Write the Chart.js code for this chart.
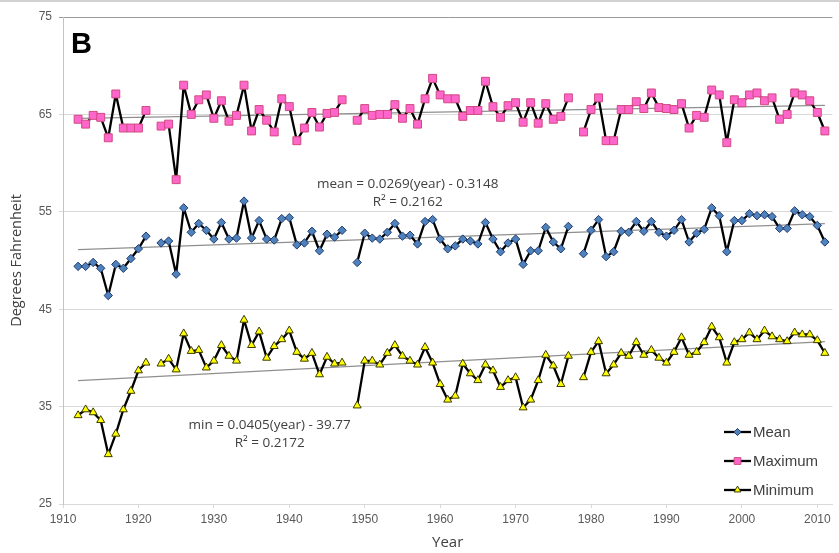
<!DOCTYPE html>
<html>
<head>
<meta charset="utf-8">
<script src="https://cdn.jsdelivr.net/npm/chart.js@4.4.1/dist/chart.umd.min.js"></script>
<style>
html, body { margin: 0; padding: 0; background: #fff; }
canvas { display: block; }
</style>
</head>
<body>
<canvas id="c" width="839" height="553"></canvas>
<script>
// Annual temperatures, degrees Fahrenheit (null = missing year)
const years = [
  1912, 1913, 1914, 1915, 1916, 1917, 1918, 1919, 1920, 1921,
  1922, 1923, 1924, 1925, 1926, 1927, 1928, 1929, 1930, 1931,
  1932, 1933, 1934, 1935, 1936, 1937, 1938, 1939, 1940, 1941,
  1942, 1943, 1944, 1945, 1946, 1947, 1948, 1949, 1950, 1951,
  1952, 1953, 1954, 1955, 1956, 1957, 1958, 1959, 1960, 1961,
  1962, 1963, 1964, 1965, 1966, 1967, 1968, 1969, 1970, 1971,
  1972, 1973, 1974, 1975, 1976, 1977, 1978, 1979, 1980, 1981,
  1982, 1983, 1984, 1985, 1986, 1987, 1988, 1989, 1990, 1991,
  1992, 1993, 1994, 1995, 1996, 1997, 1998, 1999, 2000, 2001,
  2002, 2003, 2004, 2005, 2006, 2007, 2008, 2009, 2010, 2011
];

const meanTemps = [
  49.4, 49.4, 49.8, 49.2, 46.4, 49.6, 49.2, 50.2, 51.2, 52.5,
  null, 51.8, 52.0, 48.6, 55.4, 52.9, 53.8, 53.1, 52.2, 53.9,
  52.2, 52.3, 56.1, 52.3, 54.1, 52.2, 52.1, 54.3, 54.4, 51.6,
  51.8, 53.0, 51.0, 52.7, 52.4, 53.1, null, 49.8, 52.8, 52.3,
  52.2, 52.9, 53.8, 52.5, 52.6, 51.7, 54.0, 54.2, 52.2, 51.2,
  51.5, 52.2, 52.0, 51.7, 53.9, 52.2, 50.9, 51.8, 52.2, 49.6,
  51.0, 51.0, 53.4, 51.9, 51.2, 53.5, null, 50.7, 53.1, 54.2,
  50.4, 50.9, 53.0, 52.9, 54.0, 53.0, 54.0, 52.9, 52.5, 53.1,
  54.2, 51.9, 52.8, 53.2, 55.4, 54.6, 50.9, 54.1, 54.1, 54.8,
  54.6, 54.7, 54.5, 53.3, 53.3, 55.1, 54.7, 54.5, 53.6, 51.9
];

const maxTemps = [
  64.5, 64.0, 64.9, 64.7, 62.6, 67.1, 63.6, 63.6, 63.6, 65.4,
  null, 63.8, 64.0, 58.3, 68.0, 65.0, 66.5, 67.0, 64.6, 66.4,
  64.3, 64.9, 68.0, 63.3, 65.5, 64.4, 63.2, 66.6, 65.8, 62.3,
  63.6, 65.2, 63.7, 65.1, 65.2, 66.5, null, 64.4, 65.6, 64.9,
  65.0, 65.0, 66.0, 64.6, 65.6, 64.0, 66.6, 68.7, 67.0, 66.6,
  66.6, 64.8, 65.4, 65.4, 68.4, 65.8, 64.7, 65.9, 66.2, 64.2,
  66.2, 64.1, 66.1, 64.5, 64.8, 66.7, null, 63.2, 65.5, 66.7,
  62.3, 62.3, 65.5, 65.5, 66.3, 65.6, 67.2, 65.7, 65.6, 65.5,
  66.1, 63.6, 64.9, 64.7, 67.5, 67.0, 62.1, 66.5, 66.2, 67.0,
  67.2, 66.4, 66.7, 64.5, 65.0, 67.2, 67.0, 66.4, 65.2, 63.3
];

const minTemps = [
  34.1, 34.7, 34.4, 33.6, 30.1, 32.2, 34.7, 36.6, 38.7, 39.5,
  null, 39.4, 39.9, 38.8, 42.5, 40.7, 40.8, 39.0, 39.7, 41.3,
  40.2, 39.7, 43.9, 41.3, 42.7, 40.0, 41.2, 41.9, 42.8, 40.6,
  39.9, 40.5, 38.3, 40.1, 39.4, 39.5, null, 35.1, 39.7, 39.7,
  39.3, 40.5, 41.3, 40.2, 39.7, 39.3, 41.1, 39.5, 37.3, 35.7,
  36.1, 39.4, 38.4, 37.7, 39.3, 38.7, 37.0, 37.7, 38.0, 34.9,
  35.7, 37.7, 40.3, 39.2, 37.3, 40.2, null, 38.0, 40.6, 41.7,
  38.4, 39.3, 40.5, 40.2, 41.6, 40.3, 40.8, 40.0, 39.5, 40.6,
  42.1, 40.3, 40.6, 41.6, 43.2, 42.1, 39.5, 41.6, 41.9, 42.6,
  41.9, 42.8, 42.2, 41.9, 41.7, 42.6, 42.4, 42.4, 41.8, 40.5
];

// Axis ticks
const xTicks = [1910, 1920, 1930, 1940, 1950, 1960, 1970, 1980, 1990, 2000, 2010];
const yTicks = [25, 35, 45, 55, 65, 75];

// Published linear fits
const meanFit = { slope: 0.0269, intercept: -0.3148, r2: 0.2162 };
const minFit  = { slope: 0.0405, intercept: -39.77, r2: 0.2172 };

const seriesNames = ['Mean', 'Maximum', 'Minimum'];
const panelLetter = 'B';
const xTitle = 'Year';
const yTitle = 'Degrees Fahrenheit';

// Least-squares fit for the maximum series (no equation printed for it)
function leastSquares(xs, ys) {
  let n = 0, sx = 0, sy = 0, sxx = 0, sxy = 0;
  xs.forEach((xv, i) => {
    const yv = ys[i];
    if (yv == null) return;
    n++; sx += xv; sy += yv; sxx += xv * xv; sxy += xv * yv;
  });
  const slope = (n * sxy - sx * sy) / (n * sxx - sx * sx);
  return { slope, intercept: (sy - slope * sx) / n };
}
const maxFit = leastSquares(years, maxTemps);

const toPoints = vals => years.map((yr, i) => ({ x: yr, y: vals[i] }));
const firstYear = years[0], lastYear = years[years.length - 1];
const fitLine = f => [
  { x: firstYear, y: f.slope * firstYear + f.intercept },
  { x: lastYear,  y: f.slope * lastYear  + f.intercept }
];

const styles = [
  { pointStyle: 'rectRot',  radius: 4.2, fill: '#4f81bd', stroke: '#1f3c6e' },
  { pointStyle: 'rect',     radius: 5.6, fill: '#ff66cc', stroke: '#d04a80' },
  { pointStyle: 'triangle', radius: 4.6, fill: '#ffff00', stroke: '#3a3a00' }
];
const seriesValues = [meanTemps, maxTemps, minTemps];

const seriesSets = seriesValues.map((vals, i) => ({
  label: seriesNames[i],
  data: toPoints(vals),
  borderColor: '#000',
  borderWidth: 2.3,
  borderJoinStyle: 'round',
  tension: 0,
  spanGaps: false,
  pointStyle: styles[i].pointStyle,
  pointRadius: styles[i].radius,
  pointBackgroundColor: styles[i].fill,
  pointBorderColor: styles[i].stroke,
  pointBorderWidth: 1,
  order: i
}));

const trendSets = [meanFit, maxFit, minFit].map(f => ({
  label: 'trend',
  data: fitLine(f),
  borderColor: '#8f8f8f',
  borderWidth: 1.1,
  pointRadius: 0,
  tension: 0,
  order: 10
}));

function drawMarker(ctx, st, x, y) {
  const r = st.radius;
  ctx.beginPath();
  if (st.pointStyle === 'rect') {
    const s = r * Math.SQRT1_2;
    ctx.rect(x - s, y - s, 2 * s, 2 * s);
  } else if (st.pointStyle === 'rectRot') {
    ctx.moveTo(x, y - r); ctx.lineTo(x + r, y); ctx.lineTo(x, y + r); ctx.lineTo(x - r, y);
    ctx.closePath();
  } else {
    const h = r * Math.sqrt(3) / 2;
    ctx.moveTo(x, y - r); ctx.lineTo(x + h, y + r / 2); ctx.lineTo(x - h, y + r / 2);
    ctx.closePath();
  }
  ctx.fillStyle = st.fill; ctx.fill();
  ctx.lineWidth = 1; ctx.strokeStyle = st.stroke; ctx.stroke();
}

const fmt = (v, d) => v.toFixed(d);
const annotations = [
  { x: 1955.7, y: 57.85, text: 'mean = ' + fmt(meanFit.slope, 4) + '(year) - ' + fmt(-meanFit.intercept, 4) },
  { x: 1955.7, y: 56.0,  text: 'R\u00B2 = ' + fmt(meanFit.r2, 4) },
  { x: 1937.4, y: 33.1,  text: 'min = ' + fmt(minFit.slope, 4) + '(year) - ' + fmt(-minFit.intercept, 2) },
  { x: 1937.4, y: 31.2,  text: 'R\u00B2 = ' + fmt(minFit.r2, 4) }
];

const decorations = {
  id: 'decorations',
  beforeDraw(chart) {
    const ctx = chart.ctx;
    ctx.save();
    ctx.fillStyle = '#fff';
    ctx.fillRect(0, 0, chart.width, chart.height);
    ctx.fillStyle = '#d2d2d2';
    ctx.fillRect(0, 0, chart.width, 2);
    ctx.restore();
  },
  afterDraw(chart) {
    const { ctx, chartArea } = chart;
    const xs = chart.scales.x, ys = chart.scales.y;
    ctx.save();

    // panel letter
    ctx.font = 'bold 29px "Liberation Sans", Arial, sans-serif';
    ctx.fillStyle = '#000';
    ctx.textAlign = 'left';
    ctx.textBaseline = 'alphabetic';
    ctx.fillText(panelLetter, chartArea.left + 8, chartArea.top + 36);

    // fit equations
    ctx.font = '13.5px "Open Sans", sans-serif';
    ctx.fillStyle = '#404040';
    ctx.textAlign = 'center';
    ctx.textBaseline = 'middle';
    annotations.forEach(a => {
      ctx.fillText(a.text, xs.getPixelForValue(a.x), ys.getPixelForValue(a.y));
    });

    // legend
    const lx = chartArea.left + 661, rowY = chartArea.bottom - 72, rowGap = 29;
    ctx.font = '15px "Liberation Sans", Arial, sans-serif';
    ctx.textAlign = 'left';
    seriesNames.forEach((name, i) => {
      const yy = rowY + i * rowGap;
      ctx.beginPath();
      ctx.moveTo(lx, yy); ctx.lineTo(lx + 27, yy);
      ctx.strokeStyle = '#000'; ctx.lineWidth = 2.3; ctx.stroke();
      drawMarker(ctx, { ...styles[i], radius: styles[i].radius * 0.85 }, lx + 13.5, yy);
      ctx.fillStyle = '#404040';
      ctx.fillText(name, lx + 29, yy + 1);
    });
    ctx.restore();
  }
};

new Chart(document.getElementById('c'), {
  type: 'line',
  data: { datasets: [...seriesSets, ...trendSets] },
  plugins: [decorations],
  options: {
    responsive: false,
    animation: false,
    events: [],
    layout: { padding: { top: 17, right: 0, bottom: 0, left: 0 } },
    plugins: { legend: { display: false }, tooltip: { enabled: false } },
    scales: {
      x: {
        type: 'linear',
        min: 1910,
        max: 2012,
        afterBuildTicks: s => { s.ticks = xTicks.map(v => ({ value: v })); },
        afterFit: s => { s.height = 49; },
        ticks: {
          color: '#595959',
          font: { family: '"Liberation Sans", Arial, sans-serif', size: 12 },
          padding: 4,
          maxRotation: 0,
          autoSkip: false,
          callback: v => String(v)
        },
        grid: { drawOnChartArea: false, drawTicks: true, tickLength: 4, color: '#d9d9d9' },
        border: { color: '#d9d9d9', width: 1 },
        title: {
          display: true,
          text: xTitle,
          color: '#404040',
          font: { family: '"Open Sans", sans-serif', size: 15 },
          padding: { top: 0, bottom: 1 }
        }
      },
      y: {
        type: 'linear',
        min: 25,
        max: 75,
        afterBuildTicks: s => { s.ticks = yTicks.map(v => ({ value: v })); },
        afterFit: s => { s.width = 63; },
        ticks: {
          color: '#595959',
          font: { family: '"Liberation Sans", Arial, sans-serif', size: 12 },
          padding: 7,
          callback: v => String(v)
        },
        grid: {
          drawTicks: true,
          tickLength: 4,
          color: ctx => (ctx.tick && ctx.tick.value === 75) ? '#9a9a9a' : '#d9d9d9',
          lineWidth: 1
        },
        border: { color: '#c4c4c4', width: 1 },
        title: {
          display: true,
          text: yTitle,
          color: '#404040',
          font: { family: '"Open Sans", sans-serif', size: 14.5 },
          padding: { top: 8, bottom: 0 }
        }
      }
    }
  }
});
</script>
</body>
</html>
